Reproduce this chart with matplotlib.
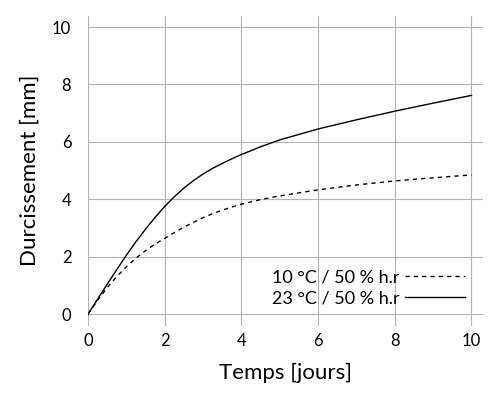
import matplotlib
matplotlib.use("Agg")
import matplotlib.pyplot as plt

plt.rcParams['font.family'] = ['Lato', 'DejaVu Sans']

# temps [jours]
t_23 = [0, 0.25, 0.5, 0.75, 1, 1.25, 1.5, 1.75, 2, 2.25, 2.5, 2.75, 3, 3.25, 3.5, 3.75,
        4, 4.5, 5, 6, 7, 8, 9, 10]
d_23 = [0, 0.52, 1.04, 1.55, 2.05, 2.52, 2.96, 3.37, 3.75, 4.09, 4.39, 4.65, 4.88, 5.08, 5.25, 5.41,
        5.56, 5.83, 6.07, 6.45, 6.77, 7.07, 7.35, 7.62]

t_10 = [0, 0.25, 0.5, 0.75, 1, 1.25, 1.5, 1.75, 2, 2.25, 2.5, 2.75, 3, 3.25, 3.5, 3.75,
        4, 4.5, 5, 6, 7, 8, 9, 10]
d_10 = [0, 0.48, 0.92, 1.31, 1.65, 1.95, 2.21, 2.44, 2.64, 2.84, 3.03, 3.2, 3.36, 3.5, 3.62, 3.73,
        3.83, 3.99, 4.12, 4.33, 4.5, 4.64, 4.75, 4.85]

lab_10 = "10 °C / 50 % h.r"
lab_23 = "23 °C / 50 % h.r"

fig = plt.figure(figsize=(5, 4), dpi=100)
ax = fig.add_axes([0.176, 0.186, 0.79, 0.775])

ax.plot(t_10, d_10, color="black", linestyle=(0, (3, 3)), linewidth=1.0, label=lab_10)
ax.plot(t_23, d_23, color="black", linestyle="-", linewidth=1.0, label=lab_23)

ax.set_xlim(0, 10.3)
ax.set_ylim(-0.4, 10.4)
ax.set_xticks([0, 2, 4, 6, 8, 10])
ax.set_yticks([0, 2, 4, 6, 8, 10])
ax.grid(True, color="#b4b4b4", linewidth=0.8)
ax.set_axisbelow(True)
for s in ax.spines.values():
    s.set_visible(False)
ax.tick_params(axis="y", length=0, pad=12, labelsize=12)
ax.tick_params(axis="x", length=0, pad=5, labelsize=12)

ax.set_xlabel("Temps [jours]", fontsize=16, labelpad=10)
ax.set_ylabel("Durcissement [mm]", fontsize=16, labelpad=9)

ax.legend(loc="lower right", markerfirst=False, frameon=False, fontsize=13,
          handlelength=3.3, handletextpad=0.3, labelspacing=0.25,
          bbox_to_anchor=(0.995, 0.01))

fig.savefig("out.png", dpi=100)
